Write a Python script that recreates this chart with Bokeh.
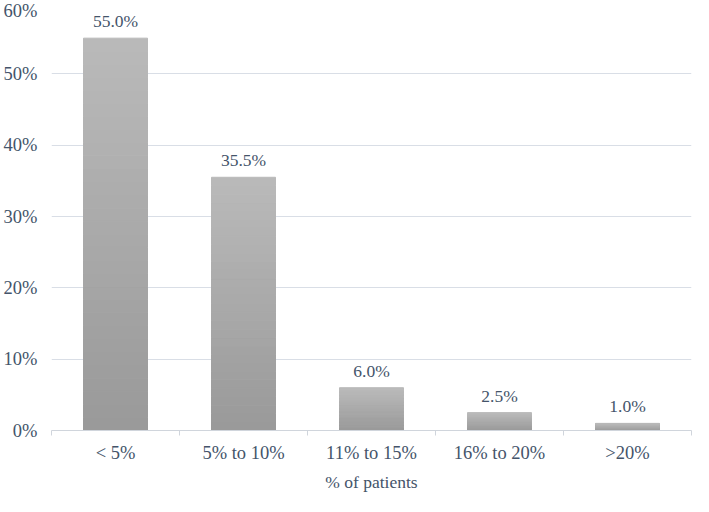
from bokeh.plotting import figure
from bokeh.models import ColumnDataSource, FixedTicker, LabelSet, Title
from bokeh.core.properties import value
from bokeh.embed import file_html
from bokeh.resources import INLINE

categories = ["< 5%", "5% to 10%", "11% to 15%", "16% to 20%", ">20%"]
percent_values = [55.0, 35.5, 6.0, 2.5, 1.0]
y_ticks = [0, 10, 20, 30, 40, 50, 60]
x_title = "% of patients"

FONT = "Liberation Serif"
TEXT_COLOR = "#44546A"
GRID_COLOR = "#D9DEE6"
TOP_RGB = (186, 186, 186)
BOT_RGB = (153, 153, 153)
N_SLICES = 30

centers = [i + 0.5 for i in range(len(categories))]

# gradient slices for each bar (styling only: derived from the values)
xs, bottoms, tops, colors = [], [], [], []
for c, v in zip(centers, percent_values):
    for k in range(N_SLICES):
        f0 = k / N_SLICES
        f1 = (k + 1) / N_SLICES
        fm = (f0 + f1) / 2
        rgb = tuple(int(round(BOT_RGB[j] + (TOP_RGB[j] - BOT_RGB[j]) * fm)) for j in range(3))
        xs.append(c)
        bottoms.append(v * f0)
        tops.append(v * f1)
        colors.append("#%02x%02x%02x" % rgb)

slices = ColumnDataSource(dict(x=xs, bottom=bottoms, top=tops, color=colors))
labels_src = ColumnDataSource(dict(
    x=centers, y=percent_values,
    text=["%.1f%%" % v for v in percent_values],
))

p = figure(width=693, height=496, x_range=(0, len(categories)), y_range=(0, 60),
           output_backend="svg", toolbar_location=None,
           min_border_left=44, min_border_right=2, min_border_top=2, min_border_bottom=0)
p.outline_line_color = None
p.background_fill_color = "white"
p.border_fill_color = "white"

p.vbar(x="x", bottom="bottom", top="top", width=0.5, source=slices,
       fill_color="color", line_color="color", line_width=1)

labels = LabelSet(x="x", y="y", text="text", source=labels_src,
                  text_align="center", text_baseline="bottom", y_offset=7,
                  text_font=value(FONT), text_font_size="17.5px", text_color=TEXT_COLOR)
p.add_layout(labels)

# y axis
p.yaxis.ticker = FixedTicker(ticks=y_ticks)
p.yaxis.major_label_overrides = {t: "%d%%" % t for t in y_ticks}
p.yaxis.axis_line_color = None
p.yaxis.major_tick_line_color = None
p.yaxis.minor_tick_line_color = None
p.yaxis.major_label_text_font = FONT
p.yaxis.major_label_text_font_size = "18.5px"
p.yaxis.major_label_text_color = TEXT_COLOR
p.yaxis.major_label_standoff = 8

# x axis: labels at centers, tick marks at category boundaries
p.xaxis.ticker = FixedTicker(ticks=centers, minor_ticks=list(range(len(categories) + 1)))
p.xaxis.major_label_overrides = {c: lab for c, lab in zip(centers, categories)}
p.xaxis.major_tick_line_color = None
p.xaxis.major_tick_out = 0
p.xaxis.major_tick_in = 0
p.xaxis.minor_tick_line_color = "#D0D5DC"
p.xaxis.minor_tick_out = 5
p.xaxis.minor_tick_in = 0
p.xaxis.axis_line_color = "#D0D5DC"
p.xaxis.major_label_text_font = FONT
p.xaxis.major_label_text_font_size = "18.5px"
p.xaxis.major_label_text_color = TEXT_COLOR
p.xaxis.major_label_standoff = 7

# axis title as a title placed below the axis
p.add_layout(Title(text=x_title, align="center", text_font=FONT, text_font_size="17.5px",
                   text_font_style="normal", text_color=TEXT_COLOR,
                   standoff=9, offset=0), "below")

p.xgrid.grid_line_color = None
p.ygrid.grid_line_color = GRID_COLOR
p.ygrid.grid_line_width = 1

open("out.html", "w").write(file_html(p, INLINE))
